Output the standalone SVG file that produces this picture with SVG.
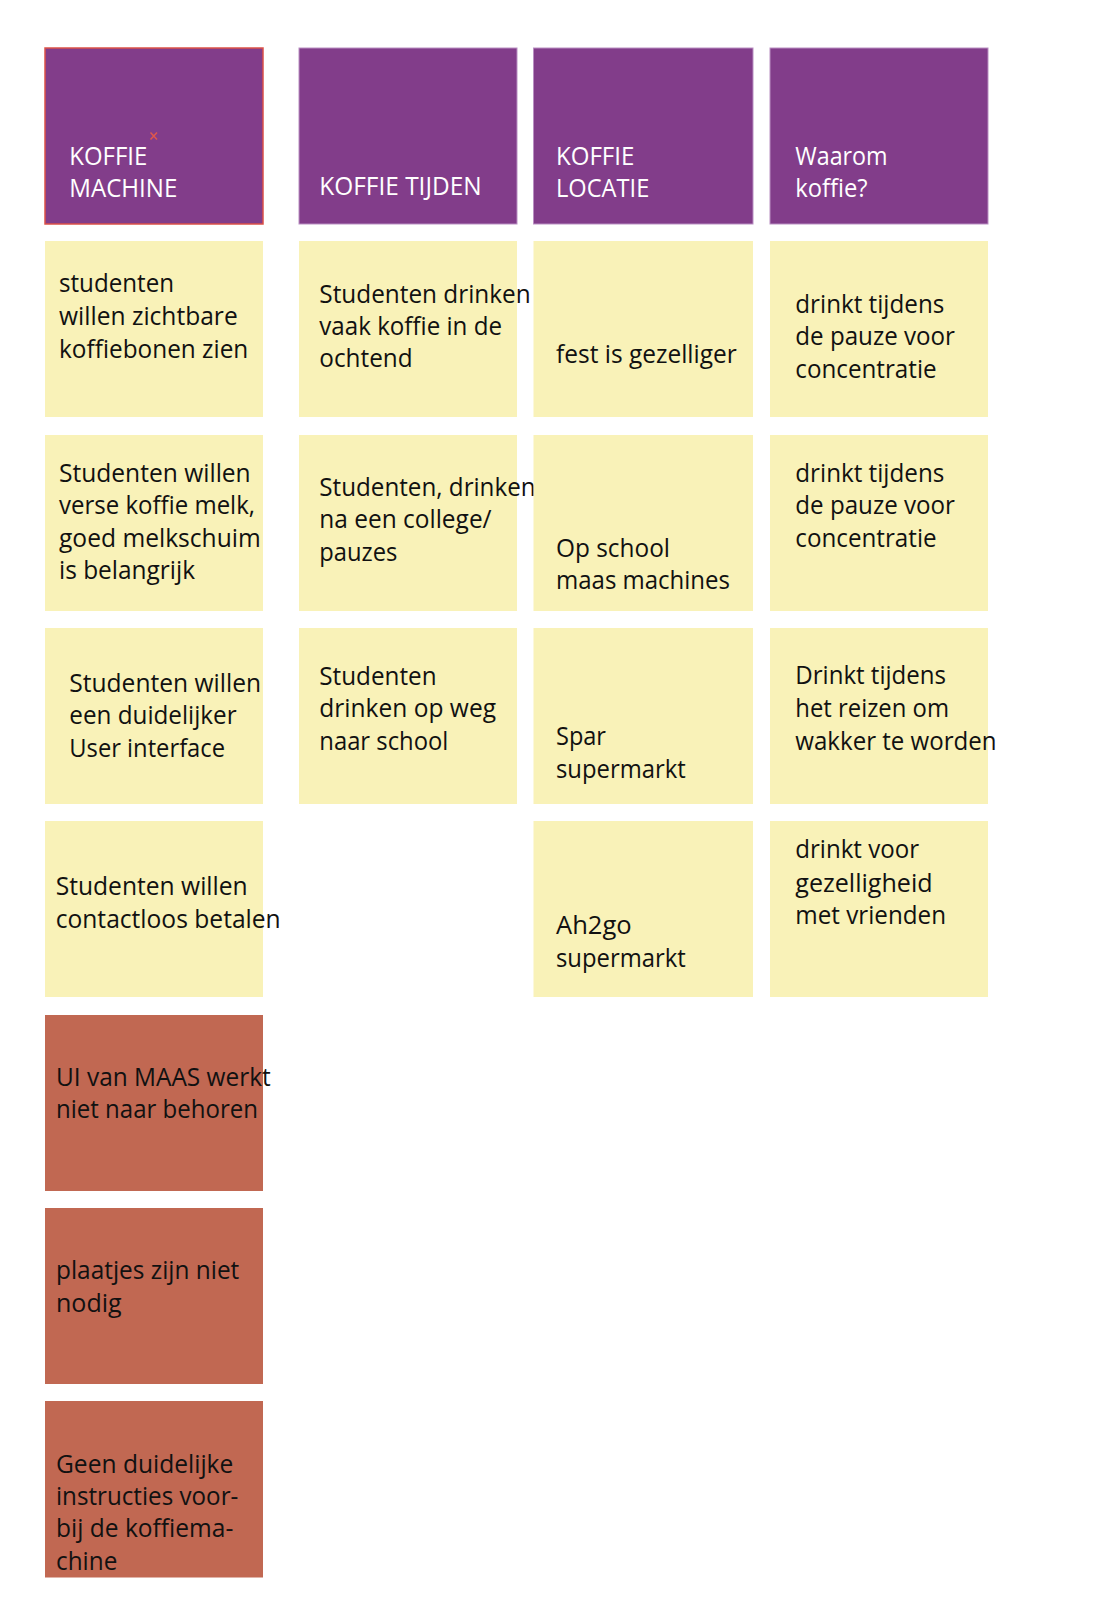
<svg xmlns="http://www.w3.org/2000/svg" width="1110" height="1610" viewBox="0 0 1110 1610">
<style>
  .hd { fill: #823D8A; stroke: #B98FC2; stroke-width: 1; }
  .hd1 { fill: #823D8A; stroke: #DB5148; stroke-width: 1.5; }
  .ye { fill: #F9F2B8; }
  .rd { fill: #C16852; }
  text { font-family: "Open Sans", "Noto Sans", "Liberation Sans", sans-serif; font-size: 25px; }
  .wt { fill: #FFFFFF; }
  .bt { fill: #111111; }
</style>
<rect x="0" y="0" width="1110" height="1610" fill="#FFFFFF"/>

<!-- Headers -->
<g id="h-koffie-machine">
  <rect class="hd1" x="45" y="48" width="218" height="176"/>
  <path d="M150.5 132.5 L157 139.5 M157 132.5 L150.5 139.5" stroke="#E0574A" stroke-width="1.5" fill="none"/>
  <text class="wt" x="69.3" y="165" textLength="78" lengthAdjust="spacingAndGlyphs">KOFFIE</text>
  <text class="wt" x="69.3" y="196.7" textLength="108" lengthAdjust="spacingAndGlyphs">MACHINE</text>
</g>
<g id="h-koffie-tijden">
  <rect class="hd" x="299" y="48" width="218" height="176"/>
  <text class="wt" x="319.3" y="195" textLength="162.3" lengthAdjust="spacingAndGlyphs">KOFFIE TIJDEN</text>
</g>
<g id="h-koffie-locatie">
  <rect class="hd" x="533.5" y="48" width="219.5" height="176"/>
  <text class="wt" x="556" y="165" textLength="78.3" lengthAdjust="spacingAndGlyphs">KOFFIE</text>
  <text class="wt" x="556" y="196.7" textLength="93.3" lengthAdjust="spacingAndGlyphs">LOCATIE</text>
</g>
<g id="h-waarom-koffie">
  <rect class="hd" x="770" y="48" width="218" height="176"/>
  <text class="wt" x="795.3" y="165" textLength="92.3" lengthAdjust="spacingAndGlyphs">Waarom</text>
  <text class="wt" x="795.3" y="196.7" textLength="72.3" lengthAdjust="spacingAndGlyphs">koffie?</text>
</g>

<!-- Column 1 -->
<g id="c1-r1">
  <rect class="ye" x="45" y="241" width="218" height="176"/>
  <text class="bt" x="59" y="292.3" textLength="115" lengthAdjust="spacingAndGlyphs">studenten</text>
  <text class="bt" x="59" y="325" textLength="178.7" lengthAdjust="spacingAndGlyphs">willen zichtbare</text>
  <text class="bt" x="59" y="357.7" textLength="189.3" lengthAdjust="spacingAndGlyphs">koffiebonen zien</text>
</g>
<g id="c1-r2">
  <rect class="ye" x="45" y="435" width="218" height="176"/>
  <text class="bt" x="59" y="481.7" textLength="191.7" lengthAdjust="spacingAndGlyphs">Studenten willen</text>
  <text class="bt" x="59" y="514" textLength="196" lengthAdjust="spacingAndGlyphs">verse koffie melk,</text>
  <text class="bt" x="59" y="546.7" textLength="201.7" lengthAdjust="spacingAndGlyphs">goed melkschuim</text>
  <text class="bt" x="59" y="579.3" textLength="136" lengthAdjust="spacingAndGlyphs">is belangrijk</text>
</g>
<g id="c1-r3">
  <rect class="ye" x="45" y="628" width="218" height="176"/>
  <text class="bt" x="69.3" y="691.7" textLength="191.7" lengthAdjust="spacingAndGlyphs">Studenten willen</text>
  <text class="bt" x="69.3" y="724" textLength="167.3" lengthAdjust="spacingAndGlyphs">een duidelijker</text>
  <text class="bt" x="69.3" y="756.7" textLength="155.7" lengthAdjust="spacingAndGlyphs">User interface</text>
</g>
<g id="c1-r4">
  <rect class="ye" x="45" y="821" width="218" height="176"/>
  <text class="bt" x="55.7" y="895" textLength="192" lengthAdjust="spacingAndGlyphs">Studenten willen</text>
  <text class="bt" x="55.7" y="928.3" textLength="225" lengthAdjust="spacingAndGlyphs">contactloos betalen</text>
</g>
<g id="c1-r5">
  <rect class="rd" x="45" y="1015" width="218" height="176"/>
  <text class="bt" x="56" y="1086" textLength="214.7" lengthAdjust="spacingAndGlyphs">UI van MAAS werkt</text>
  <text class="bt" x="56" y="1118.3" textLength="202" lengthAdjust="spacingAndGlyphs">niet naar behoren</text>
</g>
<g id="c1-r6">
  <rect class="rd" x="45" y="1208" width="218" height="176"/>
  <text class="bt" x="56" y="1279.3" textLength="183.3" lengthAdjust="spacingAndGlyphs">plaatjes zijn niet</text>
  <text class="bt" x="56" y="1311.7" textLength="65.7" lengthAdjust="spacingAndGlyphs">nodig</text>
</g>
<g id="c1-r7">
  <rect class="rd" x="45" y="1401" width="218" height="176.5"/>
  <text class="bt" x="56" y="1472.7" textLength="177.3" lengthAdjust="spacingAndGlyphs">Geen duidelijke</text>
  <text class="bt" x="56" y="1505" textLength="182.3" lengthAdjust="spacingAndGlyphs">instructies voor-</text>
  <text class="bt" x="56" y="1537.3" textLength="177.3" lengthAdjust="spacingAndGlyphs">bij de koffiema-</text>
  <text class="bt" x="56" y="1570" textLength="61.3" lengthAdjust="spacingAndGlyphs">chine</text>
</g>

<!-- Column 2 -->
<g id="c2-r1">
  <rect class="ye" x="299" y="241" width="218" height="176"/>
  <text class="bt" x="319.3" y="302.7" textLength="211.3" lengthAdjust="spacingAndGlyphs">Studenten drinken</text>
  <text class="bt" x="319.3" y="335" textLength="182.7" lengthAdjust="spacingAndGlyphs">vaak koffie in de</text>
  <text class="bt" x="319.3" y="367.3" textLength="93.3" lengthAdjust="spacingAndGlyphs">ochtend</text>
</g>
<g id="c2-r2">
  <rect class="ye" x="299" y="435" width="218" height="176"/>
  <text class="bt" x="319.3" y="496" textLength="216.3" lengthAdjust="spacingAndGlyphs">Studenten, drinken</text>
  <text class="bt" x="319.3" y="528.3" textLength="172.3" lengthAdjust="spacingAndGlyphs">na een college/</text>
  <text class="bt" x="319.3" y="560.7" textLength="78" lengthAdjust="spacingAndGlyphs">pauzes</text>
</g>
<g id="c2-r3">
  <rect class="ye" x="299" y="628" width="218" height="176"/>
  <text class="bt" x="319.3" y="685" textLength="117.3" lengthAdjust="spacingAndGlyphs">Studenten</text>
  <text class="bt" x="319.3" y="716.7" textLength="176.7" lengthAdjust="spacingAndGlyphs">drinken op weg</text>
  <text class="bt" x="319.3" y="750" textLength="129" lengthAdjust="spacingAndGlyphs">naar school</text>
</g>

<!-- Column 3 -->
<g id="c3-r1">
  <rect class="ye" x="533.5" y="241" width="219.5" height="176"/>
  <text class="bt" x="556" y="363.3" textLength="180.7" lengthAdjust="spacingAndGlyphs">fest is gezelliger</text>
</g>
<g id="c3-r2">
  <rect class="ye" x="533.5" y="435" width="219.5" height="176"/>
  <text class="bt" x="556" y="557.3" textLength="114" lengthAdjust="spacingAndGlyphs">Op school</text>
  <text class="bt" x="556" y="589.3" textLength="174" lengthAdjust="spacingAndGlyphs">maas machines</text>
</g>
<g id="c3-r3">
  <rect class="ye" x="533.5" y="628" width="219.5" height="176"/>
  <text class="bt" x="556" y="745" textLength="50" lengthAdjust="spacingAndGlyphs">Spar</text>
  <text class="bt" x="556" y="778.3" textLength="129.7" lengthAdjust="spacingAndGlyphs">supermarkt</text>
</g>
<g id="c3-r4">
  <rect class="ye" x="533.5" y="821" width="219.5" height="176"/>
  <text class="bt" x="556" y="934.3" textLength="75.7" lengthAdjust="spacingAndGlyphs">Ah2go</text>
  <text class="bt" x="556" y="966.7" textLength="129.7" lengthAdjust="spacingAndGlyphs">supermarkt</text>
</g>

<!-- Column 4 -->
<g id="c4-r1">
  <rect class="ye" x="770" y="241" width="218" height="176"/>
  <text class="bt" x="795.3" y="312.7" textLength="149" lengthAdjust="spacingAndGlyphs">drinkt tijdens</text>
  <text class="bt" x="795.3" y="345" textLength="159.7" lengthAdjust="spacingAndGlyphs">de pauze voor</text>
  <text class="bt" x="795.3" y="378.3" textLength="141.3" lengthAdjust="spacingAndGlyphs">concentratie</text>
</g>
<g id="c4-r2">
  <rect class="ye" x="770" y="435" width="218" height="176"/>
  <text class="bt" x="795.3" y="481.7" textLength="149" lengthAdjust="spacingAndGlyphs">drinkt tijdens</text>
  <text class="bt" x="795.3" y="514" textLength="159.7" lengthAdjust="spacingAndGlyphs">de pauze voor</text>
  <text class="bt" x="795.3" y="546.7" textLength="141.3" lengthAdjust="spacingAndGlyphs">concentratie</text>
</g>
<g id="c4-r3">
  <rect class="ye" x="770" y="628" width="218" height="176"/>
  <text class="bt" x="795.3" y="684.3" textLength="150.7" lengthAdjust="spacingAndGlyphs">Drinkt tijdens</text>
  <text class="bt" x="795.3" y="717.3" textLength="153.7" lengthAdjust="spacingAndGlyphs">het reizen om</text>
  <text class="bt" x="795.3" y="750" textLength="201.3" lengthAdjust="spacingAndGlyphs">wakker te worden</text>
</g>
<g id="c4-r4">
  <rect class="ye" x="770" y="821" width="218" height="176"/>
  <text class="bt" x="795.3" y="858.3" textLength="123.7" lengthAdjust="spacingAndGlyphs">drinkt voor</text>
  <text class="bt" x="795.3" y="891.7" textLength="137.3" lengthAdjust="spacingAndGlyphs">gezelligheid</text>
  <text class="bt" x="795.3" y="924.3" textLength="150.7" lengthAdjust="spacingAndGlyphs">met vrienden</text>
</g>

<g id="connectors"></g>
</svg>
